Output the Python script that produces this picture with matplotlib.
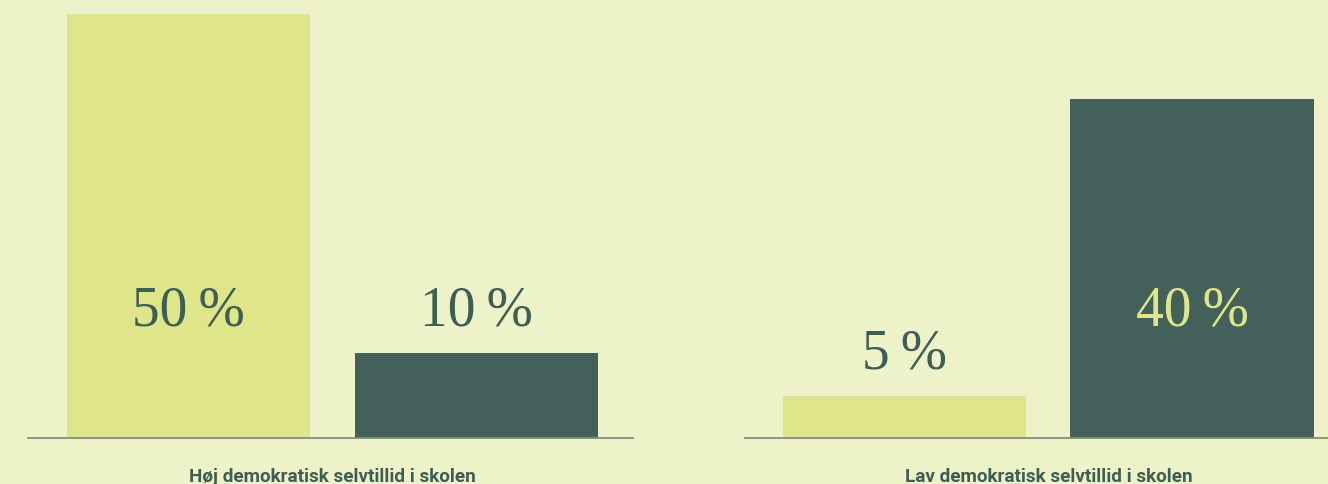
import matplotlib
matplotlib.use("Agg")
import matplotlib.pyplot as plt

groups = ["Høj demokratisk selvtillid i skolen", "Lav demokratisk selvtillid i skolen"]
series_a = [50, 5]    # light bars
series_b = [10, 40]   # dark bars
value_labels_a = ["50\u2009%", "5\u2009%"]
value_labels_b = ["10\u2009%", "40\u2009%"]

BG = "#EDF2C8"
LIGHT = "#DFE68A"
DARK = "#43605A"
TEXT = "#3E5E55"
LINE = "#7F8F78"

W, H = 1328, 485
fig = plt.figure(figsize=(W / 100, H / 100), dpi=100, facecolor=BG)

base_px = 439
ytop = 50 * base_px / 424.0
px_per_unit = 424.0 / 50
axes_spec = [
    (28, 633, -0.556, 1.541, 0.842),
    (745, 1328, -0.557, 1.474, 0.847),
]

for gi, (x0, x1, xl, xr, bw) in enumerate(axes_spec):
    ax = fig.add_axes([x0 / W, 1 - base_px / H, (x1 - x0) / W, base_px / H])
    ax.set_facecolor(BG)
    ax.patch.set_alpha(0)
    vals = [series_a[gi], series_b[gi]]
    labs = [value_labels_a[gi], value_labels_b[gi]]
    cols = [LIGHT, DARK]
    ax.bar([0, 1], vals, width=bw, color=cols, zorder=1)
    ax.set_xlim(xl, xr)
    ax.set_ylim(0, ytop)
    ax.axhline(0, color=LINE, lw=1.3, zorder=3, clip_on=False)
    for i, (v, lab) in enumerate(zip(vals, labs)):
        y = min(v + 5, 15)
        tc = LIGHT if (i == 1 and v > y) else TEXT
        ax.text(i, y, lab, ha="center", va="center", color=tc,
                fontsize=40, family=["Liberation Serif", "DejaVu Serif"], zorder=4)
    for s in ax.spines.values():
        s.set_visible(False)
    ax.set_xticks([])
    ax.set_yticks([])
    ax.text(0.5, -(482 - base_px) / px_per_unit, groups[gi], ha="center", va="baseline",
            color=TEXT, fontsize=13.6, fontweight="bold", family=["Roboto", "DejaVu Sans"],
            clip_on=False)

fig.savefig("out.png", dpi=100, facecolor=BG)
